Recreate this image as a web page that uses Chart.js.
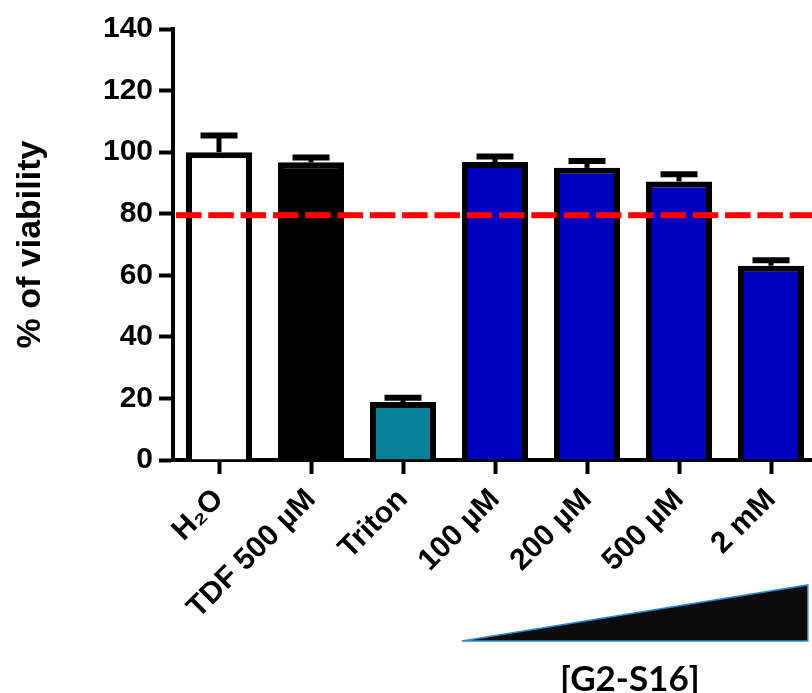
<!DOCTYPE html>
<html>
<head>
<meta charset="utf-8">
<script src="https://cdn.jsdelivr.net/npm/chart.js@4.4.1/dist/chart.umd.min.js"></script>
<style>
  html, body { margin: 0; padding: 0; background: #fff; overflow: hidden; }
  #wrap { width: 830px; height: 693px; }
</style>
</head>
<body>
<div id="wrap"><canvas id="viabilityChart" width="830" height="693"></canvas></div>
<script>
// Datos del gráfico
const categories = ['H₂O', 'TDF 500 µM', 'Triton', '100 µM', '200 µM', '500 µM', '2 mM'];
const viability = [100, 96.7, 18.8, 96.8, 94.9, 90.5, 63.1];
const viabilitySD = [5.4, 1.6, 1.4, 1.8, 2.2, 2.3, 1.8];
const barColors = ['#ffffff', '#000000', '#0a8099', '#0000be', '#0000be', '#0000be', '#0000be'];
const yTicks = [0, 20, 40, 60, 80, 100, 120, 140];
const threshold = 79.5;
const concLabel = '[G2-S16]';

const FONT = 'Arial, "Liberation Sans", sans-serif';

// Barras de error (solo hacia arriba)
const errorBars = {
    id: 'errorBars',
    afterDatasetsDraw(chart) {
        const ctx = chart.ctx;
        const y = chart.scales.y;
        const meta = chart.getDatasetMeta(0);
        ctx.save();
        ctx.strokeStyle = '#000';
        meta.data.forEach((bar, i) => {
            const top = y.getPixelForValue(viability[i] + viabilitySD[i]);
            ctx.lineWidth = 5;
            ctx.beginPath();
            ctx.moveTo(bar.x, bar.y);
            ctx.lineTo(bar.x, top);
            ctx.stroke();
            ctx.lineWidth = 6;
            ctx.beginPath();
            ctx.moveTo(bar.x - 18.5, top);
            ctx.lineTo(bar.x + 18.5, top);
            ctx.stroke();
        });
        ctx.restore();
    }
};

// Línea roja discontinua del umbral
const thresholdLine = {
    id: 'thresholdLine',
    afterDatasetsDraw(chart) {
        const ctx = chart.ctx;
        const area = chart.chartArea;
        const py = chart.scales.y.getPixelForValue(threshold);
        ctx.save();
        ctx.strokeStyle = '#ff0000';
        ctx.lineWidth = 6;
        ctx.setLineDash([25.5, 6.8]);
        ctx.beginPath();
        ctx.moveTo(area.left + 3, py);
        ctx.lineTo(area.right, py);
        ctx.stroke();
        ctx.restore();
    }
};

// Triángulo de concentración y su etiqueta
const concentrationWedge = {
    id: 'concentrationWedge',
    afterDraw(chart) {
        const ctx = chart.ctx;
        const x = chart.scales.x;
        const step = x.getPixelForValue(1) - x.getPixelForValue(0);
        const left = x.getPixelForValue(3) - 0.36 * step;
        const right = x.getPixelForValue(6) + 0.4 * step;
        const top = 585, bottom = 641;
        ctx.save();
        ctx.beginPath();
        ctx.moveTo(left, bottom);
        ctx.lineTo(right, top);
        ctx.lineTo(right, bottom);
        ctx.closePath();
        ctx.fillStyle = '#0b0b0b';
        ctx.fill();
        ctx.strokeStyle = '#2b8ad6';
        ctx.lineWidth = 1.5;
        ctx.stroke();

        ctx.fillStyle = '#000';
        ctx.font = 'bold 35px Lato, "Open Sans", sans-serif';
        ctx.textAlign = 'center';
        ctx.textBaseline = 'alphabetic';
        ctx.fillText(concLabel, (left + right) / 2 - 5, 691);
        ctx.restore();
    }
};

const ctx = document.getElementById('viabilityChart').getContext('2d');
const viabilityChart = new Chart(ctx, {
    type: 'bar',
    data: {
        labels: categories,
        datasets: [{
            data: viability,
            backgroundColor: barColors,
            borderColor: '#000',
            borderWidth: 6,
            borderSkipped: 'start',
            barPercentage: 66 / 92,
            categoryPercentage: 1
        }]
    },
    options: {
        responsive: false,
        animation: false,
        layout: { padding: { top: 29, right: 13, bottom: 0, left: 0 } },
        plugins: {
            legend: { display: false },
            tooltip: { enabled: false }
        },
        scales: {
            x: {
                z: 1,
                offset: true,
                border: { display: true, color: '#000', width: 4 },
                grid: {
                    offset: false,
                    drawOnChartArea: false,
                    drawTicks: true,
                    tickLength: 14,
                    tickWidth: 4,
                    tickColor: '#000'
                },
                ticks: {
                    color: '#000',
                    font: { family: FONT, size: 30, weight: 'bold' },
                    minRotation: 45,
                    maxRotation: 45,
                    autoSkip: false,
                    padding: 8
                },
                afterFit(scale) { scale.height = 233; }
            },
            y: {
                min: 0,
                max: 140,
                border: { display: true, color: '#000', width: 4 },
                grid: {
                    drawOnChartArea: false,
                    drawTicks: true,
                    tickLength: 14,
                    tickWidth: 4,
                    tickColor: '#000'
                },
                afterBuildTicks(scale) { scale.ticks = yTicks.map(v => ({ value: v })); },
                ticks: {
                    color: '#000',
                    font: { family: FONT, size: 30, weight: 'bold' },
                    padding: 6
                },
                title: {
                    display: true,
                    text: '% of viability',
                    color: '#000',
                    font: { family: FONT, size: 34, weight: 'bold' },
                    padding: { top: 10, bottom: 0 }
                },
                afterFit(scale) { scale.width = 173; }
            }
        }
    },
    plugins: [errorBars, thresholdLine, concentrationWedge]
});
</script>
</body>
</html>
